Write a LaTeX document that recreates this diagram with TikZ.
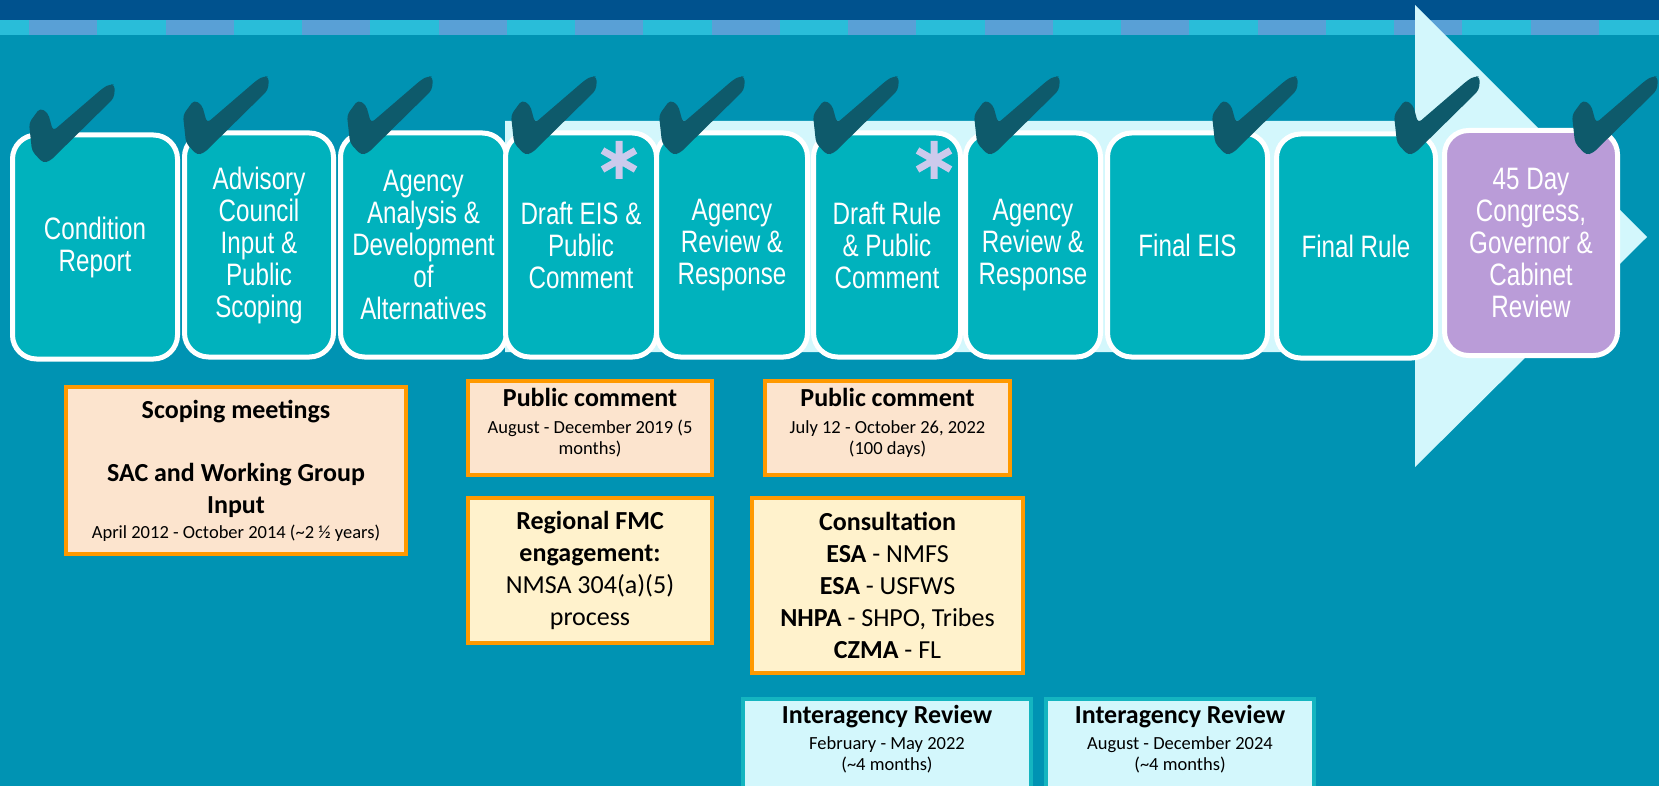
\documentclass[tikz,border=0pt]{standalone}
\usepackage{fontspec}
\setmainfont{Carlito}
\newfontfamily\narrowfont[FakeStretch=0.78]{Liberation Sans}
\usetikzlibrary{positioning}
\definecolor{bgteal}{RGB}{0,147,179}
\definecolor{topblue}{RGB}{0,82,142}
\definecolor{stripelight}{RGB}{41,189,217}
\definecolor{stripeblue}{RGB}{89,160,214}
\definecolor{arrowcyan}{RGB}{211,247,252}
\definecolor{stageteal}{RGB}{0,178,189}
\definecolor{stagepurple}{RGB}{186,156,216}
\definecolor{tickdark}{RGB}{14,90,107}
\definecolor{starlilac}{RGB}{204,202,236}
\definecolor{notepeach}{RGB}{252,228,206}
\definecolor{noteyellow}{RGB}{255,242,204}
\definecolor{noteedge}{RGB}{255,153,0}
\definecolor{reviewfill}{RGB}{211,247,252}
\definecolor{reviewedge}{RGB}{20,181,192}
\newcommand\smalldate{\fontsize{18.5}{22}\selectfont}

\begin{document}
\begin{tikzpicture}[x=1pt,y=-1pt,
      stage/.style={rectangle, rounded corners=24pt, draw=white, line width=5pt, fill=stageteal, text=white, inner sep=0pt, minimum height=224pt, align=center, font=\narrowfont\fontsize{31}{32}\selectfont},
      note/.style={rectangle, draw=noteedge, line width=4pt, fill=notepeach, inner sep=0pt, align=center, font=\fontsize{26}{32}\selectfont},
      review/.style={rectangle, draw=reviewedge, line width=4pt, fill=reviewfill, inner xsep=0pt, inner ysep=6pt, anchor=north, text depth=45pt, align=center, font=\fontsize{26}{26}\selectfont},
      checkmark/.pic={\fill[tickdark, rounded corners=4pt] (-3,-1) -- (2,0) -- (1,13) -- (-63,76) -- (-70,78) -- (-81,66) -- (-84,38) -- (-73,23) -- (-65,28) -- (-60,46) -- (-10,3) -- cycle;},
      asterisk/.pic={\draw[starlilac, line width=7pt] (0,-19) -- (0,19) (-16.5,-9.5) -- (16.5,9.5) (-16.5,9.5) -- (16.5,-9.5);}]

\useasboundingbox (0,0) rectangle (1659,786);
\clip (0,0) rectangle (1659,786);
\fill[bgteal] (0,0) rectangle (1659,786);
\fill[topblue] (0,0) rectangle (1659,20);
\fill[stripelight] (0,20) rectangle (1659,35);
\foreach \k in {0,...,11}
  \fill[stripeblue] (29+136.5*\k,20) rectangle (97+136.5*\k,35);
\fill[arrowcyan] (505,121) -- (1415,121) -- (1415,5) -- (1647,237) -- (1415,467) -- (1415,352) -- (505,352) -- cycle;

\node[stage, minimum width=165pt] (s1) at (95,247) {Condition\\Report};
\node[stage, minimum width=149pt] (s2) at (259,245) {Advisory\\Council\\Input \&\\Public\\Scoping};
\node[stage, minimum width=166pt] (s3) at (423.5,245) {Agency\\Analysis \&\\Development\\of\\Alternatives};
\node[stage, minimum width=151pt] (s4) at (581,245) {Draft EIS \&\\Public\\Comment};
\node[stage, minimum width=151pt] (s5) at (732,245) {Agency\\Review \&\\Response};
\node[stage, minimum width=147pt] (s6) at (887,245) {Draft Rule\\\& Public\\Comment};
\node[stage, minimum width=135pt] (s7) at (1033,245) {Agency\\Review \&\\Response};
\node[stage, minimum width=160pt] (s8) at (1187.5,245) {Final EIS};
\node[stage, minimum width=159pt] (s9) at (1356,246) {Final Rule};
\node[stage, fill=stagepurple, minimum width=173pt, minimum height=225pt] (s10) at (1531,243) {45 Day\\Congress,\\Governor \&\\Cabinet\\Review};

\pic at (113,85) {checkmark};
\pic at (267,77) {checkmark};
\pic at (431,77) {checkmark};
\pic at (595,77) {checkmark};
\pic at (743,77) {checkmark};
\pic at (897,77) {checkmark};
\pic at (1058,77) {checkmark};
\pic at (1296,77) {checkmark};
\pic at (1478,77) {checkmark};
\pic at (1656,77) {checkmark};
\pic at (619,160) {asterisk};
\pic at (934,160) {asterisk};

\node[note, minimum width=340pt, minimum height=167pt] (scope) at (236,470.5) {\textbf{Scoping meetings}\\[31pt]\textbf{SAC and Working Group}\\\textbf{Input}\\[-7pt]{\smalldate April 2012 - October 2014 (\textasciitilde2 ½ years)}};
\node[note, minimum width=244pt, minimum height=94pt, text depth=13pt, font=\fontsize{26}{27}\selectfont] (pc1) at (590,428) {\textbf{Public comment}\\{\smalldate August - December 2019 (5}\\[-6pt]{\smalldate months)}};
\node[note, minimum width=245pt, minimum height=94pt, text depth=13pt, font=\fontsize{26}{27}\selectfont] (pc2) at (887.5,428) {\textbf{Public comment}\\{\smalldate July 12 - October 26, 2022}\\[-6pt]{\smalldate (100 days)}};
\node[note, fill=noteyellow, minimum width=244pt, minimum height=145pt] (fmc) at (590,570.5) {\textbf{Regional FMC}\\\textbf{engagement:}\\NMSA 304(a)(5)\\process};
\node[note, fill=noteyellow, minimum width=271pt, minimum height=175pt] (cons) at (887.5,585.5) {\textbf{Consultation}\\\textbf{ESA} - NMFS\\\textbf{ESA} - USFWS\\\textbf{NHPA} - SHPO, Tribes\\\textbf{CZMA} - FL};
\node[review, minimum width=288pt] (ir1) at (887,697) {\textbf{Interagency Review}\\{\smalldate February - May 2022}\\[-5pt]{\smalldate (\textasciitilde4 months)}};
\node[review, minimum width=268pt] (ir2) at (1180,697) {\textbf{Interagency Review}\\{\smalldate August - December 2024}\\[-5pt]{\smalldate (\textasciitilde4 months)}};

\end{tikzpicture}
\end{document}
